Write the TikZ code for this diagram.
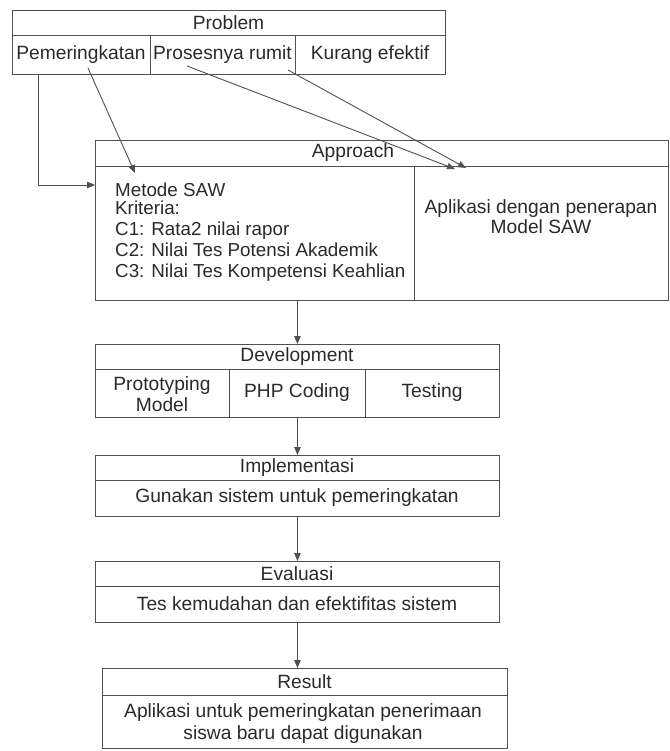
\documentclass[tikz,border=0pt]{standalone}
\usepackage{fontspec}
\setmainfont{Liberation Sans}
\usetikzlibrary{arrows.meta,positioning}
\definecolor{linec}{HTML}{505050}
\definecolor{txtc}{HTML}{2A2A2A}
\begin{document}
\begin{tikzpicture}[x=1pt,y=-1pt,
  box/.style={draw=linec, line width=0.9pt, inner sep=0, anchor=north west},
  sep/.style={draw=linec, line width=0.9pt},
  lbl/.style={text=txtc, font=\fontsize{19.2}{21}\selectfont, inner sep=0, align=center},
  arr/.style={draw=linec, line width=0.9pt, -{Triangle[length=8pt,width=6.5pt]}}]
\useasboundingbox (0,0) rectangle (669,751);
% Problem
\node[box, minimum width=433pt, minimum height=64pt] (prob) at (12,10) {};
\draw[sep] (12,35) -- (445,35);
\draw[sep] (150,35) -- (150,74);
\draw[sep] (295,35) -- (295,74);
\node[lbl] (probh) at (228.5,22.5) {Problem};
\node[lbl] (p1) at (81,54.5) {Pemeringkatan};
\node[lbl] (p2) at (222.5,54.5) {Prosesnya rumit};
\node[lbl] (p3) at (370,54.5) {Kurang efektif};
% Approach
\node[box, minimum width=573pt, minimum height=160pt] (appr) at (95,140) {};
\draw[sep] (95,166) -- (668,166);
\draw[sep] (414,166) -- (414,300);
\node[lbl] (apprh) at (353,153) {Approach};
\node[lbl, anchor=north west, align=left, font=\fontsize{18.8}{21}\selectfont] (a1) at (115,182.5) {Metode SAW\\[-3pt]Kriteria:\\C1: Rata2 nilai rapor\\C2: Nilai Tes Potensi Akademik\\C3: Nilai Tes Kompetensi Keahlian};
\node[lbl, font=\fontsize{19.2}{19.5}\selectfont] (a2) at (541,216.5) {Aplikasi dengan penerapan\\Model SAW};
% Development
\node[box, minimum width=404pt, minimum height=73pt] (dev) at (95,344) {};
\draw[sep] (95,369) -- (499,369);
\draw[sep] (229,369) -- (229,417);
\draw[sep] (365,369) -- (365,417);
\node[lbl] (devh) at (297,356.5) {Development};
\node[lbl] (d1) at (162,394) {Prototyping\\Model};
\node[lbl] (d2) at (297,393) {PHP Coding};
\node[lbl] (d3) at (432,393) {Testing};
% Implementasi
\node[box, minimum width=404pt, minimum height=61pt] (impl) at (95,455) {};
\draw[sep] (95,480) -- (499,480);
\node[lbl] (implh) at (297,467.5) {Implementasi};
\node[lbl] (implb) at (297,498) {Gunakan sistem untuk pemeringkatan};
% Evaluasi
\node[box, minimum width=404pt, minimum height=61pt] (eval) at (95,561) {};
\draw[sep] (95,586) -- (499,586);
\node[lbl] (evalh) at (297,573.5) {Evaluasi};
\node[lbl] (evalb) at (297,604) {Tes kemudahan dan efektifitas sistem};
% Result
\node[box, minimum width=405pt, minimum height=80pt] (res) at (102,668) {};
\draw[sep] (102,695) -- (507,695);
\node[lbl] (resh) at (304.5,681.5) {Result};
\node[lbl, font=\fontsize{19.2}{22}\selectfont] (resb) at (303,724) {Aplikasi untuk pemeringkatan penerimaan\\siswa baru dapat digunakan};
% connectors
\coordinate (c1s) at (38,74);
\coordinate (c1t) at (95,185);
\draw[arr] (c1s) |- (c1t);
\coordinate (c2s) at (88,68);
\coordinate (c2t) at (135,173);
\draw[arr] (c2s) -- (c2t);
\coordinate (c3s) at (187,66);
\coordinate (c3t) at (455,169);
\draw[arr] (c3s) -- (c3t);
\coordinate (c4s) at (288,70);
\coordinate (c4t) at (466,168);
\draw[arr] (c4s) -- (c4t);
\draw[arr] (dev.north |- appr.south) -- (dev.north);
\draw[arr] (dev.south) -- (impl.north);
\draw[arr] (impl.south) -- (eval.north);
\draw[arr] (eval.south) -- (eval.south |- res.north);
\end{tikzpicture}
\end{document}
